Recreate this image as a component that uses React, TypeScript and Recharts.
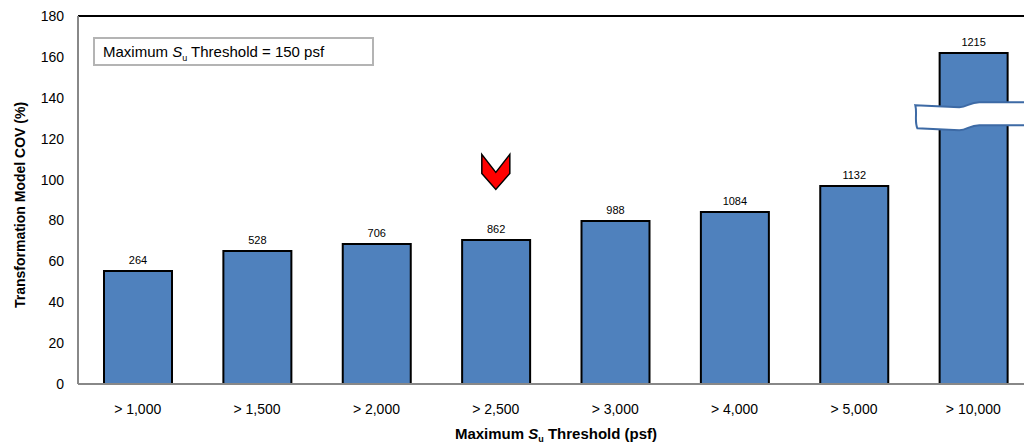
import React from "react";
import {
  BarChart, Bar, XAxis, YAxis, LabelList, ReferenceLine, ReferenceDot,
} from "recharts";

const categories = ["> 1,000", "> 1,500", "> 2,000", "> 2,500", "> 3,000", "> 4,000", "> 5,000", "> 10,000"];
const covValues = [55.3, 65.1, 68.5, 70.4, 79.7, 84.1, 96.9, 161.9];
const sampleCounts = [264, 528, 706, 862, 988, 1084, 1132, 1215];
const yTicks = [0, 20, 40, 60, 80, 100, 120, 140, 160, 180];

const markerCategory = "> 2,500";
const markerValue = 104;
const breakCategory = "> 10,000";
const breakValue = 131;

const data = categories.map((c, i) => ({ cat: c, cov: covValues[i], n: sampleCounts[i] }));

const FONT = "'Liberation Sans', Arial, sans-serif";
const BLUE = "#4F81BD";

function Chevron(props: any) {
  const { cx, cy } = props;
  const pts = [
    [-14, -17], [0, 1], [14, -17], [14, 2], [0, 18], [-14, 2],
  ].map(([dx, dy]) => `${cx + dx},${cy + dy}`).join(" ");
  return <polygon points={pts} fill="#ff0000" stroke="#000" strokeWidth={1.5} strokeLinejoin="miter" />;
}

function BreakMark(props: any) {
  const { cx, cy } = props;
  const p = (dx: number, dy: number) => `${cx + dx},${cy + dy}`;
  const d =
    `M${p(-58, -11)} L${p(-14, -9)} C${p(-6, -9)} ${p(-4, -14)} ${p(6, -14)} L${p(60, -14)} ` +
    `L${p(60, 9)} L${p(6, 9)} C${p(-4, 9)} ${p(-6, 14)} ${p(-14, 14)} L${p(-56, 12)} ` +
    `C${p(-59, 5)} ${p(-56, -3)} ${p(-58, -11)} Z`;
  return <path d={d} fill="#fff" stroke="#3d6aa5" strokeWidth={2} />;
}

function YTitle(props: any) {
  const { viewBox } = props;
  const cy = viewBox.y + viewBox.height / 2 + 5;
  return (
    <text x={20} y={cy} transform={`rotate(-90 20 ${cy})`} textAnchor="middle" dominantBaseline="central"
      fontFamily={FONT} fontSize={14} fontWeight="bold" fill="#000">
      Transformation Model COV (%)
    </text>
  );
}

function XTitle() {
  return (
    <text x={556} y={439} textAnchor="middle" fontFamily={FONT} fontSize={15} fontWeight="bold" fill="#000">
      Maximum <tspan fontStyle="italic">S</tspan>
      <tspan fontSize={9} dy={3}>u</tspan>
      <tspan dy={-3}> Threshold (psf)</tspan>
    </text>
  );
}

export default function App() {
  return (
    <div style={{ position: "relative", width: 1024, height: 446, overflow: "hidden", background: "#fff" }}>
      <style>{"body { margin: 0; }"}</style>
      <BarChart width={1040} height={446} data={data} margin={{ top: 16, right: 7, bottom: 0, left: 0 }}>
        <XAxis dataKey="cat" height={62} tickLine={false} axisLine={{ stroke: "#888", strokeWidth: 2 }}
          tickMargin={14} tick={{ fontSize: 14, fill: "#000", fontFamily: FONT }} interval={0}
          label={<XTitle />} />
        <YAxis width={78} domain={[0, 180]} ticks={yTicks} tickLine={false} tickSize={0} tickMargin={14}
          axisLine={{ stroke: "#888", strokeWidth: 2 }} tick={{ fontSize: 14, fill: "#000", fontFamily: FONT }}
          label={<YTitle />} />
        <ReferenceLine y={180} stroke="#000" strokeWidth={2} />
        <Bar dataKey="cov" fill={BLUE} stroke="#000" strokeWidth={2} barSize={68} isAnimationActive={false}>
          <LabelList dataKey="n" position="top" offset={7} fontSize={11} fill="#000" fontFamily={FONT} />
        </Bar>
        <ReferenceDot x={markerCategory} y={markerValue} shape={<Chevron />} />
        <ReferenceDot x={breakCategory} y={breakValue} shape={<BreakMark />} />
      </BarChart>
      <div style={{
        position: "absolute", left: 93, top: 37, width: 281, height: 29, boxSizing: "border-box",
        border: "2px solid #b4b4b4", fontFamily: FONT, fontSize: 15, lineHeight: "25px", paddingLeft: 8, color: "#000",
      }}>
        Maximum <i>S</i><sub style={{ fontSize: 9 }}>u</sub> Threshold = 150 psf
      </div>
    </div>
  );
}
